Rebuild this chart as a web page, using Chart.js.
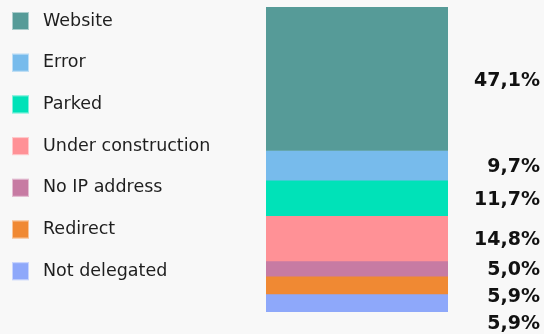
<!DOCTYPE html>
<html>
<head>
<meta charset="utf-8">
<script src="https://cdn.jsdelivr.net/npm/chart.js@4"></script>
<style>
  html, body { margin: 0; padding: 0; background: #f8f8f8; }
  #wrap { width: 544px; height: 334px; }
</style>
</head>
<body>
<div id="wrap"><canvas id="domains"></canvas></div>
<script>
const categories = ['Website', 'Error', 'Parked', 'Under construction', 'No IP address', 'Redirect', 'Not delegated'];
const shares = [47.1, 9.7, 11.7, 14.8, 5.0, 5.9, 5.9];
const shareLabels = ['47,1%', '9,7%', '11,7%', '14,8%', '5,0%', '5,9%', '5,9%'];
const colors = ['#569b98', '#77bbec', '#00e2b8', '#ff9196', '#c77ba3', '#f08933', '#8ea8fa'];

const total = shares.reduce((a, b) => a + b, 0);

// legend on the left, drawn by hand so it lines up with the picture
const sideLegend = {
  id: 'sideLegend',
  afterDraw(chart) {
    const c = chart.ctx;
    c.save();
    c.font = '17.5px "DejaVu Sans"';
    c.textBaseline = 'middle';
    chart.data.datasets.forEach((ds, i) => {
      const y = 21 + i * 41.7;
      c.fillStyle = ds.backgroundColor;
      c.fillRect(12, y - 9, 17, 18);
      c.strokeStyle = 'rgba(255,255,255,0.5)';
      c.lineWidth = 1;
      c.strokeRect(12.5, y - 8.5, 16, 17);
      c.fillStyle = '#1e1e1e';
      c.fillText(ds.label, 43, y);
    });
    c.restore();
  }
};

// percentage labels to the right of the bar, pushed down so they don't overlap
const shareText = {
  id: 'shareText',
  afterDatasetsDraw(chart) {
    const c = chart.ctx;
    c.save();
    c.font = 'bold 19px "DejaVu Sans"';
    c.textAlign = 'right';
    c.textBaseline = 'middle';
    c.fillStyle = '#111';
    let prev = -100;
    chart.data.datasets.forEach((ds, i) => {
      const bar = chart.getDatasetMeta(i).data[0];
      let y = (bar.y + bar.base) / 2;
      if (y < prev + 27) y = prev + 27;
      prev = y;
      c.fillText(shareLabels[i], 540, y + 2);
    });
    c.restore();
  }
};

const ctx = document.getElementById('domains');

new Chart(ctx, {
  type: 'bar',
  data: {
    labels: [''],
    datasets: categories.map((name, i) => ({
      label: name,
      data: [shares[i]],
      backgroundColor: colors[i],
      borderWidth: 0,
      barPercentage: 1,
      categoryPercentage: 1
    }))
  },
  options: {
    responsive: true,
    maintainAspectRatio: false,
    animation: false,
    layout: {
      padding: { left: 266, right: 96, top: 7, bottom: 22 }
    },
    plugins: {
      legend: { display: false },
      tooltip: { enabled: false }
    },
    scales: {
      x: { stacked: true, display: false },
      y: { stacked: true, display: false, reverse: true, min: 0, max: total }
    }
  },
  plugins: [sideLegend, shareText]
});
</script>
</body>
</html>
